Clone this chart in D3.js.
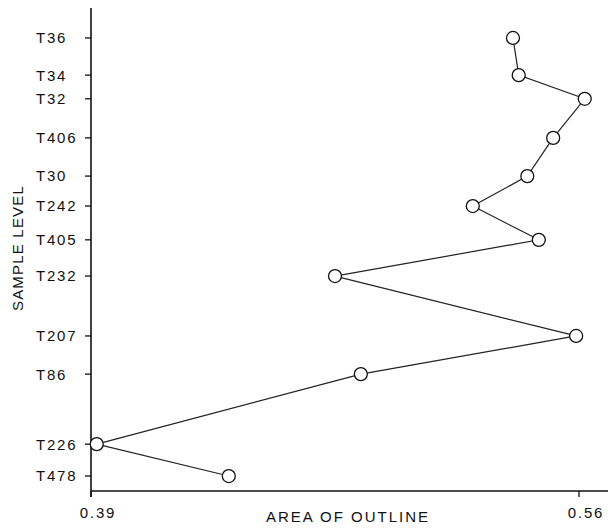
<!doctype html>
<html>
<head>
<meta charset="utf-8">
<title>Area of outline by sample level</title>
<style>
  body { margin: 0; background: #fff; }
  text { font-family: "Liberation Sans", Arial, sans-serif; fill: #111; }
</style>
</head>
<body>
<svg width="608" height="529"></svg>
<script src="https://d3js.org/d3.v7.min.js"></script>
<script>
// sample names, top to bottom
const samples = ["T36", "T34", "T32", "T406", "T30", "T242", "T405", "T232", "T207", "T86", "T226", "T478"];
// relative level of each sample (0 = bottom of axis, 100 = top)
const levels = [93.8, 86.1, 81.2, 73.1, 65.2, 59.0, 52.0, 44.5, 32.1, 24.2, 9.7, 3.1];
// area of outline
const areas = [0.537, 0.539, 0.562, 0.551, 0.542, 0.523, 0.546, 0.475, 0.559, 0.484, 0.392, 0.438];
const xTicks = [0.39, 0.56];

const svg = d3.select("svg");
const plotLeft = 91, plotTop = 8, plotBottom = 491, plotRight = 608;

const x = d3.scaleLinear().domain([0.39, 0.56]).range([plotLeft, 579]);
const y = d3.scaleLinear().domain([0, 100]).range([plotBottom, plotTop]);

const data = samples.map((s, i) => ({name: s, level: levels[i], area: areas[i]}));

// axes lines
svg.append("line")
  .attr("x1", plotLeft).attr("x2", plotLeft).attr("y1", plotTop).attr("y2", plotBottom + 6)
  .attr("stroke", "#111").attr("stroke-width", 1.6);
svg.append("line")
  .attr("x1", plotLeft).attr("x2", plotRight).attr("y1", plotBottom).attr("y2", plotBottom)
  .attr("stroke", "#111").attr("stroke-width", 1.6);

// y ticks and labels
const yt = svg.append("g");
yt.selectAll("line").data(data).enter().append("line")
  .attr("x1", plotLeft - 6).attr("x2", plotLeft)
  .attr("y1", d => y(d.level)).attr("y2", d => y(d.level))
  .attr("stroke", "#111").attr("stroke-width", 1.3);
yt.selectAll("text").data(data).enter().append("text")
  .attr("x", 36)
  .attr("y", d => y(d.level))
  .attr("dy", "0.36em")
  .attr("font-size", "15px")
  .attr("letter-spacing", "1.8px")
  .text(d => d.name);

// x ticks and labels
const xt = svg.append("g");
xt.selectAll("line").data(xTicks).enter().append("line")
  .attr("x1", d => x(d)).attr("x2", d => x(d))
  .attr("y1", plotBottom).attr("y2", plotBottom + 6)
  .attr("stroke", "#111").attr("stroke-width", 1.3);
xt.selectAll("text").data(xTicks).enter().append("text")
  .attr("x", d => x(d) + 7)
  .attr("y", 518)
  .attr("text-anchor", "middle")
  .attr("font-size", "15px")
  .attr("letter-spacing", "1.8px")
  .text(d => d.toFixed(2));

// axis titles
svg.append("text")
  .attr("x", 348).attr("y", 522)
  .attr("text-anchor", "middle")
  .attr("font-size", "15px")
  .attr("letter-spacing", "2px")
  .text("AREA OF OUTLINE");
svg.append("text")
  .attr("transform", "translate(23,248) rotate(-90)")
  .attr("text-anchor", "middle")
  .attr("font-size", "15px")
  .attr("letter-spacing", "1.2px")
  .text("SAMPLE LEVEL");

// line through the samples
const line = d3.line().x(d => x(d.area)).y(d => y(d.level));
svg.append("path")
  .datum(data)
  .attr("d", line)
  .attr("fill", "none")
  .attr("stroke", "#222")
  .attr("stroke-width", 1.2);

// sample points
svg.append("g").selectAll("circle").data(data).enter().append("circle")
  .attr("cx", d => x(d.area))
  .attr("cy", d => y(d.level))
  .attr("r", 6.5)
  .attr("fill", "#fff")
  .attr("stroke", "#111")
  .attr("stroke-width", 1.3);
</script>
</body>
</html>
